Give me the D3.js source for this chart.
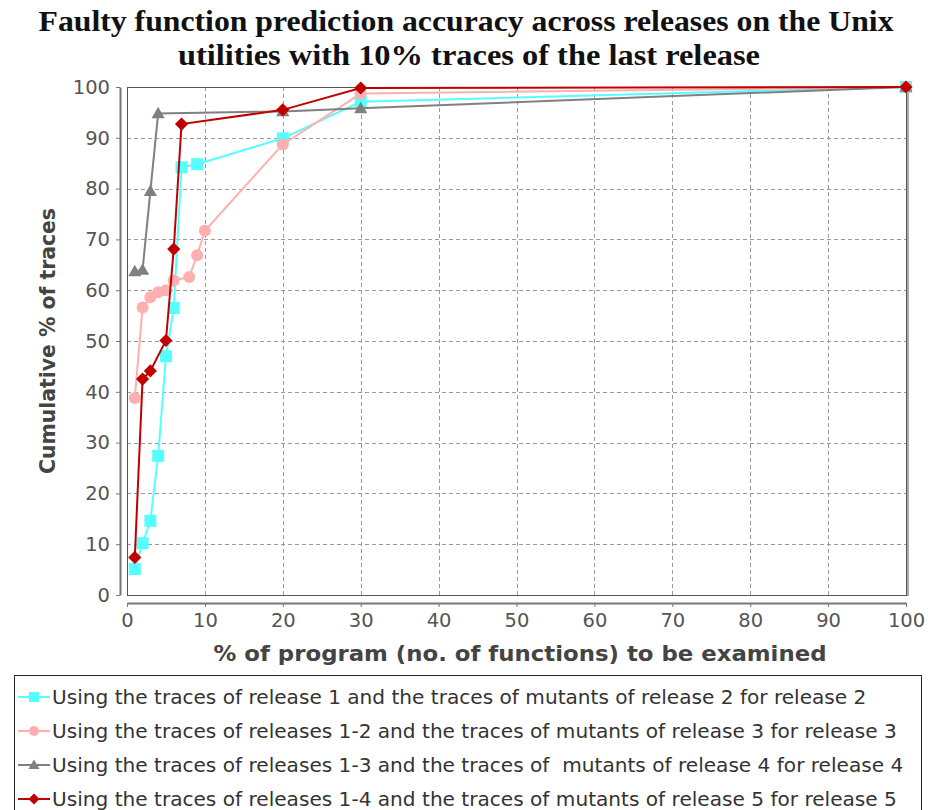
<!DOCTYPE html>
<html>
<head>
<meta charset="utf-8">
<script src="https://cdn.jsdelivr.net/npm/d3@7"></script>
<style>
  html, body { margin: 0; padding: 0; background: #fff; }
  svg { display: block; }
</style>
</head>
<body>
<svg id="chart" width="928" height="810"></svg>
<script>
// Cumulative % of faulty traces located vs. % of program examined
const xTicks = [0, 10, 20, 30, 40, 50, 60, 70, 80, 90, 100];
const yTicks = [0, 10, 20, 30, 40, 50, 60, 70, 80, 90, 100];

const release2X = [1, 2, 3, 4, 5, 6, 7, 9, 20, 30, 100];
const release2Y = [5.1, 10.2, 14.6, 27.4, 47, 56.5, 84.2, 84.8, 89.9, 97.1, 100];

const release3X = [1, 2, 3, 4, 5, 6, 8, 9, 10, 20, 30, 100];
const release3Y = [38.8, 56.6, 58.6, 59.6, 60, 61.9, 62.6, 66.9, 71.7, 88.7, 98.7, 100];

const release4X = [1, 2, 3, 4, 20, 30, 100];
const release4Y = [63.7, 64, 79.5, 94.8, 95.2, 95.8, 100];

const release5X = [1, 2, 3, 5, 6, 7, 20, 30, 100];
const release5Y = [7.4, 42.5, 44.1, 50.1, 68.1, 92.7, 95.5, 99.8, 100];

const seriesNames = [
  "Using the traces of release 1 and the traces of mutants of release 2 for release 2",
  "Using the traces of releases 1-2 and the traces of mutants of release 3 for release 3",
  "Using the traces of releases 1-3 and the traces of  mutants of release 4 for release 4",
  "Using the traces of releases 1-4 and the traces of mutants of release 5 for release 5"
];
const seriesColors = ["#55ffff", "#ffafaf", "#808080", "#c00000"];
const seriesShapes = ["square", "circle", "triangle", "diamond"];

const series = [
  { x: release2X, y: release2Y },
  { x: release3X, y: release3Y },
  { x: release4X, y: release4Y },
  { x: release5X, y: release5Y }
].map((s, i) => ({
  name: seriesNames[i],
  color: seriesColors[i],
  shape: seriesShapes[i],
  points: s.x.map((v, j) => ({ x: v, y: s.y[j] }))
}));

const svg = d3.select("#chart");
const plot = { left: 127, right: 906, top: 87, bottom: 595 };

const x = d3.scaleLinear().domain([0, 100]).range([plot.left, plot.right]);
const y = d3.scaleLinear().domain([0, 100]).range([plot.bottom, plot.top]);

// Title
const title = svg.append("text")
  .attr("text-anchor", "middle")
  .attr("font-family", "'Liberation Serif', 'DejaVu Serif', serif")
  .attr("font-weight", "bold")
  .attr("font-size", 29)
  .attr("fill", "#111");
title.append("tspan").attr("x", 466).attr("y", 31)
  .attr("textLength", 855).attr("lengthAdjust", "spacingAndGlyphs")
  .text("Faulty function prediction accuracy across releases on the Unix");
title.append("tspan").attr("x", 469).attr("y", 65)
  .attr("textLength", 582).attr("lengthAdjust", "spacingAndGlyphs")
  .text("utilities with 10% traces of the last release");

// Plot background
svg.append("rect")
  .attr("x", plot.left).attr("y", plot.top)
  .attr("width", plot.right - plot.left).attr("height", plot.bottom - plot.top)
  .attr("fill", "#fff");

// Gridlines
const grid = svg.append("g").attr("stroke", "#9a9a9a").attr("stroke-width", 1)
  .attr("stroke-dasharray", "4,3");
grid.selectAll(".gx").data(xTicks.slice(1, -1)).join("line")
  .attr("x1", d => Math.round(x(d)) + 0.5).attr("x2", d => Math.round(x(d)) + 0.5)
  .attr("y1", plot.top).attr("y2", plot.bottom);
grid.selectAll(".gy").data(yTicks.slice(1, -1)).join("line")
  .attr("y1", d => Math.round(y(d)) + 0.5).attr("y2", d => Math.round(y(d)) + 0.5)
  .attr("x1", plot.left).attr("x2", plot.right);

// Plot outline
svg.append("rect")
  .attr("x", plot.left + 0.5).attr("y", plot.top + 0.5)
  .attr("width", plot.right - plot.left).attr("height", plot.bottom - plot.top)
  .attr("fill", "none").attr("stroke", "#555").attr("stroke-width", 1);
svg.append("line")
  .attr("x1", plot.right + 2).attr("x2", plot.right + 2)
  .attr("y1", plot.top).attr("y2", plot.bottom + 1)
  .attr("stroke", "#aaa").attr("stroke-width", 2);

// Axes (offset from the plot area)
const xAxis = svg.append("g")
  .attr("transform", `translate(0,${plot.bottom + 8})`)
  .call(d3.axisBottom(x).tickValues(xTicks).tickSizeInner(4).tickSizeOuter(0).tickPadding(6));
const yAxis = svg.append("g")
  .attr("transform", `translate(${plot.left - 7},0)`)
  .call(d3.axisLeft(y).tickValues(yTicks).tickSizeInner(4).tickSizeOuter(0).tickPadding(6));
[xAxis, yAxis].forEach(a => {
  a.select(".domain").attr("stroke", "#777").attr("stroke-width", 2);
  a.selectAll(".tick line").attr("stroke", "#777");
  a.selectAll(".tick text")
    .attr("font-family", "'DejaVu Sans', Verdana, sans-serif")
    .attr("font-size", 19.5).attr("fill", "#555");
});

// Axis labels
svg.append("text")
  .attr("x", 520).attr("y", 661)
  .attr("text-anchor", "middle")
  .attr("font-family", "'DejaVu Sans', Verdana, sans-serif")
  .attr("font-weight", "bold").attr("font-size", 22).attr("fill", "#444")
  .attr("textLength", 613).attr("lengthAdjust", "spacingAndGlyphs")
  .text("% of program (no. of functions) to be examined");
svg.append("text")
  .attr("transform", `translate(55,341) rotate(-90)`)
  .attr("text-anchor", "middle")
  .attr("font-family", "'DejaVu Sans', Verdana, sans-serif")
  .attr("font-weight", "bold").attr("font-size", 21).attr("fill", "#444")
  .attr("textLength", 266).attr("lengthAdjust", "spacingAndGlyphs")
  .text("Cumulative % of traces");

// Marker shapes
function markerPath(shape, s) {
  switch (shape) {
    case "square": return `M${-s},${-s}h${2 * s}v${2 * s}h${-2 * s}z`;
    case "circle": return d3.symbol(d3.symbolCircle, Math.PI * s * s)();
    case "triangle": return `M0,${-s * 1.1}L${s * 1.1},${s * 0.8}L${-s * 1.1},${s * 0.8}z`;
    case "diamond": return `M0,${-s * 1.1}L${s * 1.1},0L0,${s * 1.1}L${-s * 1.1},0z`;
  }
}

// Series lines and markers
const line = d3.line().x(d => x(d.x)).y(d => y(d.y));
const seriesG = svg.append("g");
series.forEach(s => {
  const g = seriesG.append("g");
  g.append("path").datum(s.points)
    .attr("d", line).attr("fill", "none")
    .attr("stroke", s.color).attr("stroke-width", 2);
  g.selectAll("path.m").data(s.points).join("path")
    .attr("class", "m")
    .attr("transform", d => `translate(${x(d.x)},${y(d.y)})`)
    .attr("d", markerPath(s.shape, 6))
    .attr("fill", s.color);
});

// Legend
const legend = svg.append("g");
legend.append("rect")
  .attr("x", 14.5).attr("y", 675.5).attr("width", 907).attr("height", 150)
  .attr("fill", "#fff").attr("stroke", "#222").attr("stroke-width", 1);
series.forEach((s, i) => {
  const cy = 697 + i * 34;
  const g = legend.append("g");
  g.append("line").attr("x1", 18).attr("x2", 50).attr("y1", cy).attr("y2", cy)
    .attr("stroke", s.color).attr("stroke-width", 2);
  g.append("path").attr("transform", `translate(34,${cy})`)
    .attr("d", markerPath(s.shape, 5)).attr("fill", s.color);
  g.append("text").attr("x", 52).attr("y", cy + 7)
    .attr("font-family", "'DejaVu Sans', Verdana, sans-serif")
    .attr("font-size", 20.1).attr("fill", "#333")
    .style("white-space", "pre")
    .text(s.name);
});
</script>
</body>
</html>
